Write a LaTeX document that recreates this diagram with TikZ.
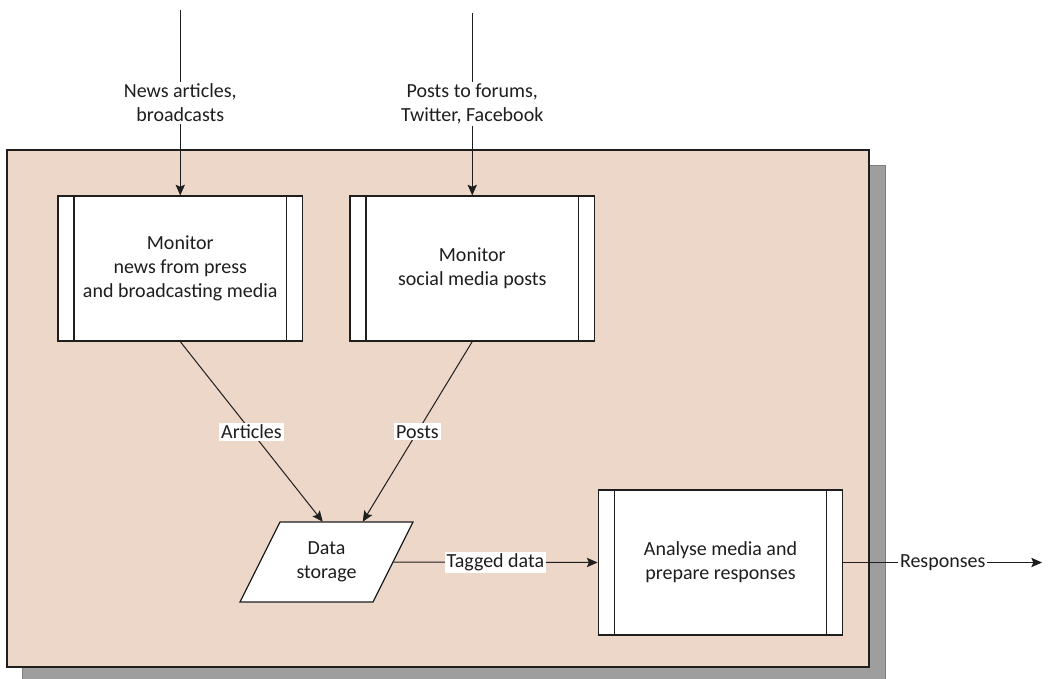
\documentclass[tikz,border=0pt]{standalone}
\usepackage{fontspec}
\setmainfont{Carlito}
\usetikzlibrary{arrows.meta,calc}
\definecolor{panelfill}{RGB}{236,215,200}
\definecolor{shadowfill}{RGB}{158,158,158}
\definecolor{ink}{RGB}{30,30,30}
\begin{document}
\begin{tikzpicture}[x=0.75pt,y=-0.75pt,
  every node/.style={font=\fontsize{15}{18.2}\selectfont, text=ink},
  proc/.style={draw=ink, line width=0.9pt, fill=white,
    minimum width=183.5pt, minimum height=108.75pt, align=center, inner sep=0pt,
    path picture={
      \draw[ink, line width=0.9pt]
        ([xshift=12pt]path picture bounding box.north west) --
        ([xshift=12pt]path picture bounding box.south west)
        ([xshift=-12pt]path picture bounding box.north east) --
        ([xshift=-12pt]path picture bounding box.south east);}},
  storeline/.style={draw=ink, line width=0.9pt, fill=white},
  storetext/.style={minimum width=129.75pt, minimum height=60pt,
    align=center, inner sep=0pt},
  flow/.style={draw=ink, line width=0.75pt,
    -{Stealth[length=8pt,width=7pt,inset=1.5pt]}},
  lbl/.style={fill=white, inner sep=1.5pt, align=center},
]
\useasboundingbox (0,0) rectangle (1048,678);

% shaded panel with its drop shadow
\filldraw[fill=shadowfill, draw=gray, line width=0.75pt] (22,165) rectangle (885,684);
\filldraw[fill=panelfill, draw=ink, line width=1.2pt] (7,150) rectangle (869,667);

% processes
\node[proc] (news) at (180.25,268.5) {Monitor\\news from press\\and broadcasting media};
\node[proc] (social) at (472.25,268.5) {Monitor\\social media posts};
\node[proc] (analyse) at (720.5,562.5) {Analyse media and\\prepare responses};

% data store: slanted outline, then its text node
\coordinate (storec) at (326.5,562);
\path[storeline] (storec) ++(-46.5,-40) -- ++(133,0) -- ++(-40,80) -- ++(-133,0) -- cycle;
\node[storetext] (store) at (storec) {Data\\storage};

% free ends of the external flows
\coordinate (newsin) at (180.25,10);
\coordinate (socialin) at (472.25,13);
\coordinate (respout) at (1042,562.5);

% flows
\draw[flow] (newsin) -- node[lbl] {News articles,\\broadcasts} (news.north);
\draw[flow] (socialin) -- node[lbl] {Posts to forums,\\Twitter, Facebook} (social.north);
\draw[flow] (news.south) -- node[lbl] {Articles} ($(store.north west)+(83,0)$);
\draw[flow] (social.south) -- node[lbl] {Posts} ($(store.north west)+(123,0)$);
\draw[flow] ($(store.east)+(-20,0)$) -- node[lbl] {Tagged data} (analyse.west);
\draw[flow] (analyse.east) -- node[lbl] {Responses} (respout);
\end{tikzpicture}
\end{document}
